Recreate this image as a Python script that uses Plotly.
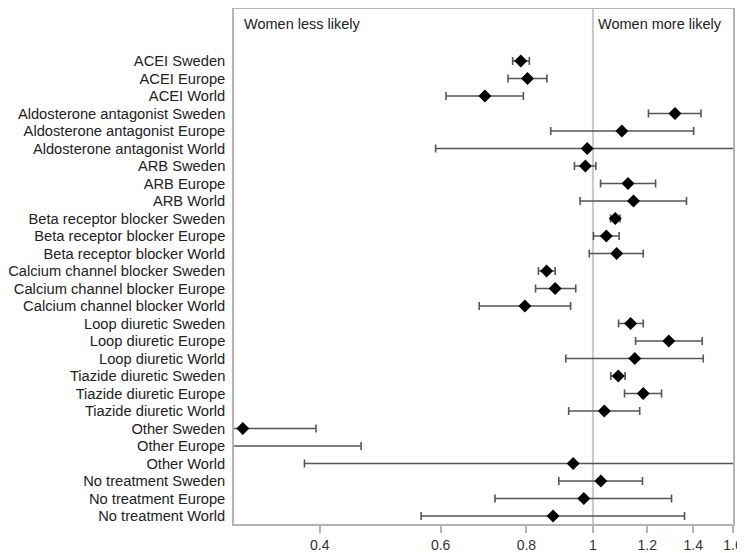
import math
import plotly.graph_objects as go

labels = [
    "ACEI Sweden", "ACEI Europe", "ACEI World",
    "Aldosterone antagonist Sweden", "Aldosterone antagonist Europe", "Aldosterone antagonist World",
    "ARB Sweden", "ARB Europe", "ARB World",
    "Beta receptor blocker Sweden", "Beta receptor blocker Europe", "Beta receptor blocker World",
    "Calcium channel blocker Sweden", "Calcium channel blocker Europe", "Calcium channel blocker World",
    "Loop diuretic Sweden", "Loop diuretic Europe", "Loop diuretic World",
    "Tiazide diuretic Sweden", "Tiazide diuretic Europe", "Tiazide diuretic World",
    "Other Sweden", "Other Europe", "Other World",
    "No treatment Sweden", "No treatment Europe", "No treatment World",
]
estimate = [0.785, 0.803, 0.696,
            1.317, 1.102, 0.981,
            0.975, 1.125, 1.146,
            1.078, 1.046, 1.083,
            0.856, 0.881, 0.796,
            1.135, 1.290, 1.151,
            1.089, 1.184, 1.039,
            0.309, 0.25, 0.936,
            1.027, 0.970, 0.875]
ci_low = [0.764, 0.752, 0.611,
          1.205, 0.868, 0.590,
          0.940, 1.026, 0.958,
          1.061, 1.002, 0.988,
          0.833, 0.825, 0.683,
          1.090, 1.154, 0.913,
          1.062, 1.112, 0.922,
          0.22, 0.13, 0.380,
          0.892, 0.720, 0.562]
ci_high = [0.808, 0.857, 0.792,
           1.437, 1.402, 1.90,
           1.010, 1.234, 1.369,
           1.095, 1.092, 1.184,
           0.881, 0.944, 0.928,
           1.184, 1.443, 1.448,
           1.114, 1.259, 1.170,
           0.395, 0.4595, 2.40,
           1.181, 1.302, 1.360]
tick_values = [0.4, 0.6, 0.8, 1, 1.2, 1.4, 1.6]
tick_text = ["0.4", "0.6", "0.8", "1", "1.2", "1.4", "1.6"]

rows = list(range(len(labels)))
plus = [h - e for h, e in zip(ci_high, estimate)]
minus = [e - l for e, l in zip(estimate, ci_low)]

FONT = "Liberation Sans, Arial, sans-serif"

fig = go.Figure()
fig.add_trace(go.Scatter(
    x=estimate, y=rows, mode="markers",
    marker=dict(symbol="diamond", size=10, color="black"),
    error_x=dict(type="data", symmetric=False, array=plus, arrayminus=minus,
                 color="#555555", thickness=1.6, width=4),
    showlegend=False,
))

fig.add_shape(type="line", xref="x", yref="paper", x0=1, x1=1, y0=0, y1=1,
              line=dict(color="#c8c8c8", width=2), layer="below")

fig.add_annotation(xref="paper", yref="paper", x=0.016, y=0.971, xanchor="left", yanchor="middle",
                   text="Women less likely", showarrow=False,
                   font=dict(family=FONT, size=14.5, color="#222222"))
fig.add_annotation(xref="x", yref="paper", x=math.log10(1.0), y=0.971, xanchor="left", yanchor="middle",
                   xshift=3, text="Women more likely", showarrow=False,
                   font=dict(family=FONT, size=14.5, color="#222222"))

# page body adds an 8px offset; figure sized/margined to compensate
fig.update_layout(
    width=737, height=545,
    margin=dict(l=226, r=12, t=1, b=29),
    paper_bgcolor="white", plot_bgcolor="white",
    font=dict(family=FONT, size=14.7, color="#222222"),
    xaxis=dict(type="log", range=[math.log10(0.3), math.log10(1.6)],
               tickvals=tick_values, ticktext=tick_text, automargin=False,
               showgrid=False, zeroline=False,
               showline=True, linecolor="#b4b4b4", linewidth=1.5, mirror=True,
               ticks="outside", ticklen=7, tickcolor="#b4b4b4", tickwidth=1.5,
               tickfont=dict(family=FONT, size=14, color="#333333")),
    yaxis=dict(range=[26.46, -2.97], tickvals=rows, ticktext=labels, automargin=False,
               showgrid=False, zeroline=False,
               showline=True, linecolor="#b4b4b4", linewidth=1.5, mirror=True,
               ticks="", ticklabelstandoff=4,
               tickfont=dict(family=FONT, size=14.7, color="#222222")),
)

fig.write_html("out.html")
